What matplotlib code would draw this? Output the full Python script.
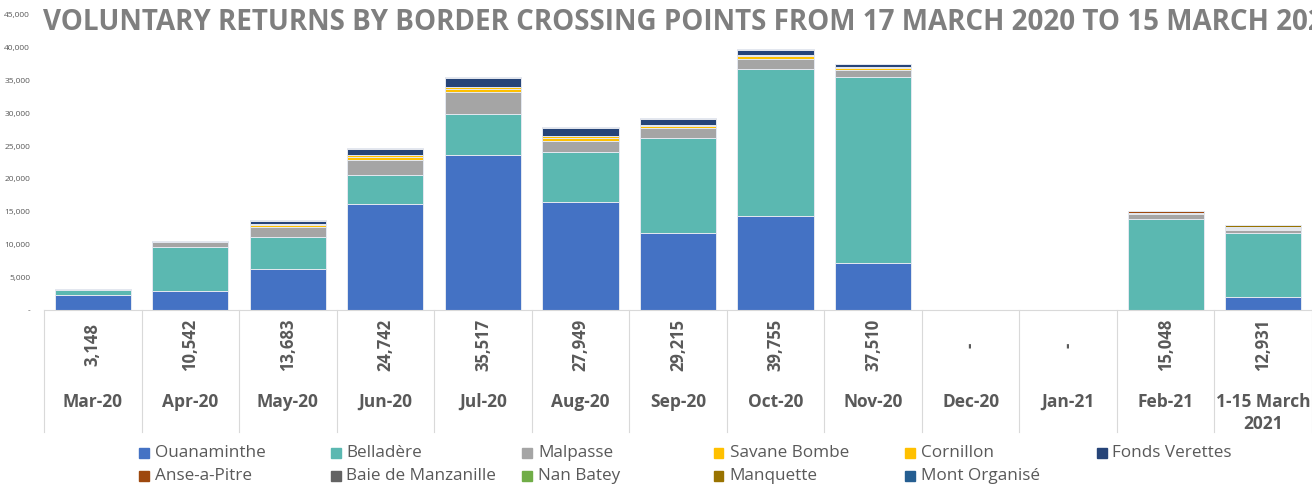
import numpy as np
import matplotlib.pyplot as plt
from matplotlib.patches import Rectangle
import matplotlib.transforms as mtransforms

plt.rcParams['font.family'] = ['Open Sans', 'DejaVu Sans']

# --- data -------------------------------------------------------------
months = ["Mar-20", "Apr-20", "May-20", "Jun-20", "Jul-20", "Aug-20", "Sep-20",
          "Oct-20", "Nov-20", "Dec-20", "Jan-21", "Feb-21", "1-15 March\n2021"]

crossings = ["Ouanaminthe", "Belladère", "Malpasse", "Savane Bombe", "Cornillon",
             "Fonds Verettes", "Anse-a-Pitre", "Baie de Manzanille", "Nan Batey",
             "Manquette", "Mont Organisé"]

ouanaminthe = [2300, 2900, 6300, 16200, 23700, 16400, 11700, 14300, 7100, 0, 0, 0, 1950]
belladere = [700, 6700, 4800, 4400, 6270, 7750, 14600, 22400, 28500, 0, 0, 13900, 9750]
malpasse = [148, 722, 1550, 2250, 3300, 1690, 1530, 1600, 950, 0, 0, 700, 450]
savane_bombe = [0, 80, 350, 520, 450, 470, 250, 400, 300, 0, 0, 100, 250]
cornillon = [0, 40, 120, 250, 230, 210, 110, 170, 150, 0, 0, 48, 150]
fonds_verettes = [0, 100, 500, 1000, 1380, 1300, 920, 770, 450, 0, 0, 0, 0]
anse_a_pitre = [0, 0, 63, 122, 187, 129, 105, 115, 60, 0, 0, 300, 0]
baie_manzanille = [0, 0, 0, 0, 0, 0, 0, 0, 0, 0, 0, 0, 80]
nan_batey = [0, 0, 0, 0, 0, 0, 0, 0, 0, 0, 0, 0, 60]
manquette = [0, 0, 0, 0, 0, 0, 0, 0, 0, 0, 0, 0, 241]
mont_organise = [0, 0, 0, 0, 0, 0, 0, 0, 0, 0, 0, 0, 0]

series = [ouanaminthe, belladere, malpasse, savane_bombe, cornillon, fonds_verettes,
          anse_a_pitre, baie_manzanille, nan_batey, manquette, mont_organise]
colors = ["#4472C4", "#5BB8B1", "#A5A5A5", "#FFC000", "#FFC000", "#264478",
          "#9E480E", "#636363", "#70AD47", "#997300", "#255E91"]

# --- figure -----------------------------------------------------------
W, H = 1312, 484
fig = plt.figure(figsize=(W / 100, H / 100), dpi=100)
ax = fig.add_axes([44 / W, (H - 310) / H, (W - 44) / W, 295 / H])

x = np.arange(len(months))
bottom = np.zeros(len(months))
for vals, col in zip(series, colors):
    vals = np.array(vals, dtype=float)
    ax.bar(x, vals, 0.78, bottom=bottom, color=col, edgecolor="#E4E8F0", linewidth=0.7)
    bottom += vals

ax.set_xlim(-0.5, len(months) - 0.5)
ax.set_ylim(0, 45000)
ticks = np.arange(0, 45001, 5000)
ax.set_yticks(ticks)
ax.set_yticklabels(["-" if t == 0 else f"{t:,}" for t in ticks], fontsize=6, color="#595959")
ax.tick_params(axis="y", length=0, pad=10)
ax.set_xticks([])
for s in ["top", "right", "left"]:
    ax.spines[s].set_visible(False)
ax.spines["bottom"].set_color("#D9D9D9")

# data table under the axis
trans = mtransforms.blended_transform_factory(ax.transData, ax.transAxes)
tbl_bottom = -(432 - 310) / 295
for k in range(len(months) + 1):
    ax.plot([k - 0.5, k - 0.5], [0, tbl_bottom], transform=trans, color="#D9D9D9",
            lw=0.8, clip_on=False)
for i, m in enumerate(months):
    total = bottom[i]
    label = "-" if total == 0 else f"{int(total):,}"
    ax.text(i, -(345 - 310) / 295, label, transform=trans, rotation=90, ha="center",
            va="center", fontsize=12, fontweight="bold", color="#595959")
    ax.text(i, -(393 - 310) / 295, m, transform=trans, ha="center", va="top",
            fontsize=12.5, fontweight="bold", color="#595959", linespacing=1.3)

# title
fig.text(43 / W, 1 - 23 / H, "VOLUNTARY RETURNS BY BORDER CROSSING POINTS FROM 17 MARCH 2020 TO 15 MARCH 2021",
         fontsize=20, fontweight="bold", color="#7F7F7F", ha="left", va="center")

# legend, laid out as a fixed grid
for i, (name, col) in enumerate(zip(crossings, colors)):
    cx = 139 + (i % 6) * 191.5
    cy = 453 + (i // 6) * 23
    fig.patches.append(Rectangle((cx / W, 1 - (cy + 5) / H), 10 / W, 10 / H,
                                 transform=fig.transFigure, color=col))
    fig.text((cx + 16) / W, 1 - cy / H, name, fontsize=12.3, color="#595959",
             ha="left", va="center")

fig.savefig("out.png", dpi=100)
